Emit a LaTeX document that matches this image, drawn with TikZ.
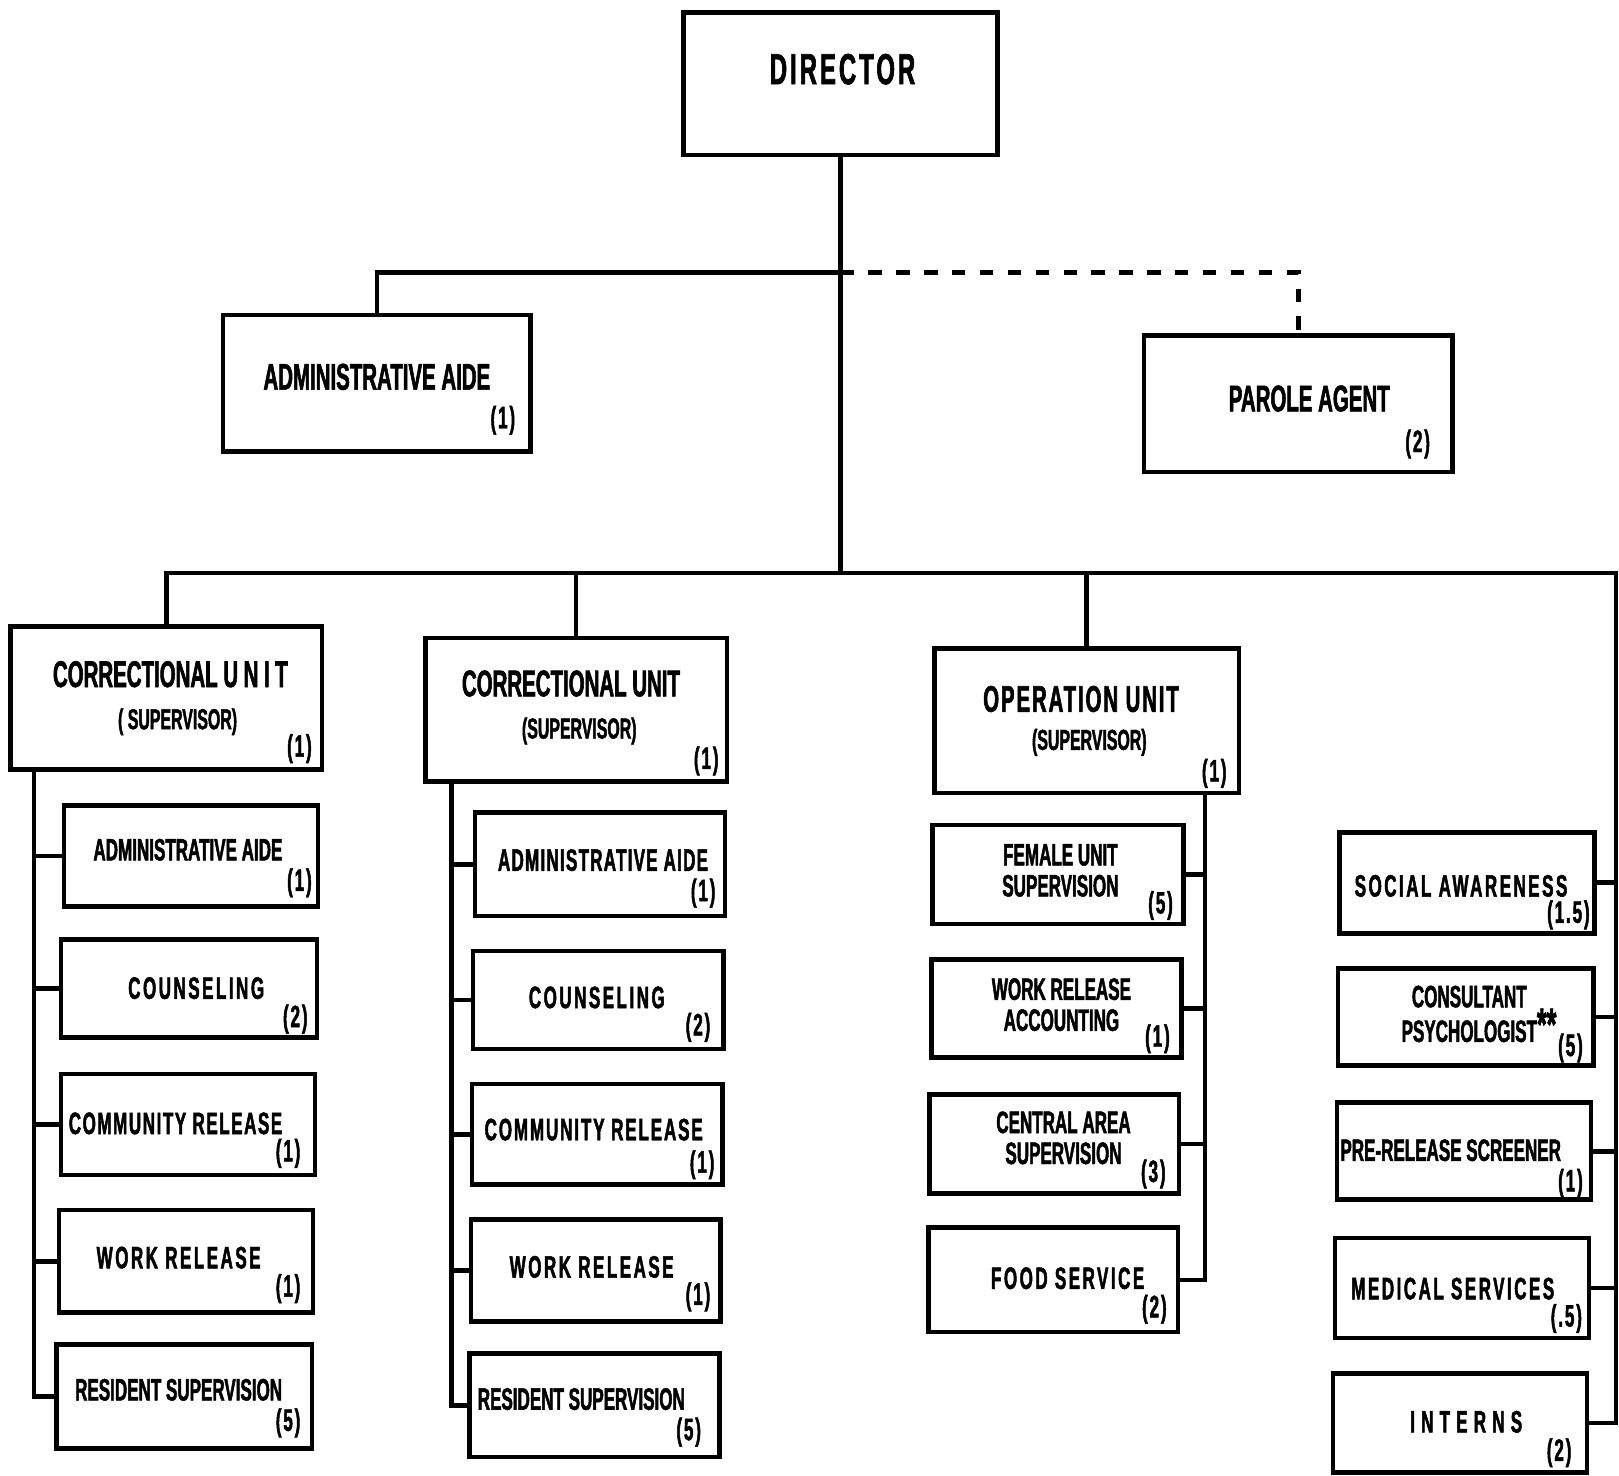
\documentclass[tikz,border=0pt]{standalone}
\usepackage{fontspec}
\setmainfont{Liberation Sans Bold}[FakeStretch=0.55, FakeBold=1.5]
\newcommand\mkbox[5]{\node[box, minimum width=#4pt-#2pt, minimum height=#5pt-#3pt] (#1) at (#2,#3) {};}
\tikzset{
  box/.style={draw, line width=4.5pt, inner sep=0pt, outer sep=0pt, anchor=north west},
  conn/.style={line width=4.5pt},
  dashconn/.style={line width=4.5pt, dash pattern=on 13pt off 14pt},
  big/.style={inner sep=0pt, font=\fontsize{42}{42}\selectfont\addfontfeature{LetterSpace=7}},
  ttl/.style={inner sep=0pt, font=\fontsize{36}{36}\selectfont},
  sub/.style={inner sep=0pt, font=\fontsize{28}{28}\selectfont},
  txt/.style={inner sep=0pt, align=center, font=\fontsize{30}{30}\selectfont},
  wide/.style={inner sep=0pt, align=center, font=\fontsize{30}{30}\selectfont\addfontfeature{LetterSpace=8}},
  num/.style={inner sep=0pt, font=\fontsize{30}{30}\selectfont\addfontfeature{LetterSpace=6}},
}
\begin{document}
\begin{tikzpicture}[x=1pt, y=-1pt]
\useasboundingbox[fill=white] (0,0) rectangle (1568,1429);
% boxes
\mkbox{dir}{662}{12}{966}{150}
\mkbox{aide}{216}{305}{514}{437}
\mkbox{parole}{1108}{325}{1407}{457}
\mkbox{cu1}{10}{607}{312}{745}
\mkbox{cu2}{412}{618}{704}{757}
\mkbox{op}{905}{628}{1200}{768}
\mkbox{c1a}{62}{780}{308}{878}
\mkbox{c1b}{59}{910}{307}{1005}
\mkbox{c1c}{59}{1040}{305}{1138}
\mkbox{c1d}{57}{1172}{303}{1271}
\mkbox{c1e}{55}{1302}{302}{1403}
\mkbox{c2a}{460}{787}{702}{887}
\mkbox{c2b}{458}{921}{701}{1016}
\mkbox{c2c}{457}{1050}{700}{1147}
\mkbox{c2d}{456}{1181}{698}{1280}
\mkbox{c2e}{455}{1311}{697}{1411}
\mkbox{o1}{903}{799}{1146}{895}
\mkbox{o2}{902}{929}{1144}{1024}
\mkbox{o3}{900}{1060}{1142}{1156}
\mkbox{o4}{899}{1189}{1141}{1290}
\mkbox{r1}{1297}{806}{1544}{904}
\mkbox{r2}{1296}{938}{1543}{1032}
\mkbox{r3}{1295}{1068}{1541}{1162}
\mkbox{r4}{1293}{1199}{1539}{1296}
\mkbox{r5}{1291}{1330}{1537}{1426}
% helper coordinates
\coordinate (j1) at (814,264);
\coordinate (bary) at (0,555);
\coordinate (trR) at (1565,555);
\coordinate (t1) at (33,0);
\coordinate (t2) at (437,0);
\coordinate (t3) at (1167,0);
% connectors
\draw[conn] (dir.south) -- (dir.south |- bary);
\draw[conn] (aide.north) |- (j1);
\draw[dashconn] (j1) -| (parole.north);
\draw[conn] (cu1.north) |- (trR) |- (r5.east);
\draw[conn] (cu2.north) -- (cu2.north |- bary);
\draw[conn] (op.north) -- (op.north |- bary);
\draw[conn] (cu1.south -| t1) |- (c1e.west);
\foreach \n in {c1a,c1b,c1c,c1d} \draw[conn] (\n.west) -- (\n.west -| t1);
\draw[conn] (cu2.south -| t2) |- (c2e.west);
\foreach \n in {c2a,c2b,c2c,c2d} \draw[conn] (\n.west) -- (\n.west -| t2);
\draw[conn] (op.south -| t3) |- (o4.east);
\foreach \n in {o1,o2,o3} \draw[conn] (\n.east) -- (\n.east -| t3);
\foreach \n in {r1,r2,r3,r4} \draw[conn] (\n.east) -- (\n.east -| trR);
% texts
\node[big] (dirT) at (816,67) {DIRECTOR};
\node[ttl] (aideT) at (365,365) {ADMINISTRATIVE AIDE};
\node[num] (aideN) at (487,407) {(1)};
\node[ttl] (paroleT) at (1268,386) {PAROLE AGENT};
\node[num] (paroleN) at (1373,430) {(2)};
\node[ttl] (cu1T) at (165,653) {CORRECTIONAL {\addfontfeature{LetterSpace=15}UNIT}};
\node[sub] (cu1S) at (172,699) {( SUPERVISOR)};
\node[num] (cu1N) at (290,725) {(1)};
\node[ttl] (cu2T) at (553,662) {CORRECTIONAL UNIT};
\node[sub] (cu2S) at (561,708) {(SUPERVISOR)};
\node[num] (cu2N) at (684,737) {(1)};
\node[ttl] (opT) at (1047,677) {\addfontfeature{LetterSpace=5}OPERATION UNIT};
\node[sub] (opS) at (1055,719) {(SUPERVISOR)};
\node[num] (opN) at (1176,749) {(1)};
% CU1 children
\node[txt] (c1aT) at (182,823) {ADMINISTRATIVE AIDE};
\node[num] (c1aN) at (290,855) {(1)};
\node[wide] (c1bT) at (190,957) {COUNSELING};
\node[num] (c1bN) at (286,987) {(2)};
\node[txt] (c1cT) at (170,1088) {\addfontfeature{LetterSpace=5}COMMUNITY RELEASE};
\node[num] (c1cN) at (279,1117) {(1)};
\node[wide] (c1dT) at (173,1218) {WORK RELEASE};
\node[num] (c1dN) at (279,1248) {(1)};
\node[txt] (c1eT) at (173,1346) {RESIDENT SUPERVISION};
\node[num] (c1eN) at (279,1378) {(5)};
% CU2 children
\node[txt] (c2aT) at (584,833) {\addfontfeature{LetterSpace=4}ADMINISTRATIVE AIDE};
\node[num] (c2aN) at (681,865) {(1)};
\node[wide] (c2bT) at (578,966) {COUNSELING};
\node[num] (c2bN) at (676,995) {(2)};
\node[txt] (c2cT) at (575,1094) {\addfontfeature{LetterSpace=6}COMMUNITY RELEASE};
\node[num] (c2cN) at (680,1128) {(1)};
\node[wide] (c2dT) at (573,1227) {WORK RELEASE};
\node[num] (c2dN) at (676,1256) {(1)};
\node[txt] (c2eT) at (563,1355) {RESIDENT SUPERVISION};
\node[num] (c2eN) at (667,1387) {(5)};
% Operation children
\node[txt] (o1T) at (1027,843) {FEMALE UNIT\\SUPERVISION};
\node[num] (o1N) at (1124,877) {(5)};
\node[txt] (o2T) at (1028,973) {WORK RELEASE\\ACCOUNTING};
\node[num] (o2N) at (1121,1006) {(1)};
\node[txt] (o3T) at (1030,1102) {CENTRAL AREA\\SUPERVISION};
\node[num] (o3N) at (1117,1137) {(3)};
\node[wide] (o4T) at (1034,1238) {FOOD SERVICE};
\node[num] (o4N) at (1118,1268) {(2)};
% right column
\node[wide] (r1T) at (1415,858) {SOCIAL AWARENESS};
\node[num] (r1N) at (1519,886) {(1.5)};
\node[txt] (r2T) at (1423,982) {CONSULTANT\\PSYCHOLOGIST\rlap{\raisebox{2pt}{\fontsize{44}{44}\selectfont **}}};
\node[num] (r2N) at (1521,1015) {(5)};
\node[txt] (r3T) at (1405,1114) {PRE-RELEASE SCREENER};
\node[num] (r3N) at (1521,1146) {(1)};
\node[wide] (r4T) at (1407,1248) {MEDICAL SERVICES};
\node[num] (r4N) at (1517,1277) {(.5)};
\node[txt] (r5T) at (1420,1377) {\addfontfeature{LetterSpace=20}INTERNS};
\node[num] (r5N) at (1510,1407) {(2)};
\end{tikzpicture}
\end{document}
